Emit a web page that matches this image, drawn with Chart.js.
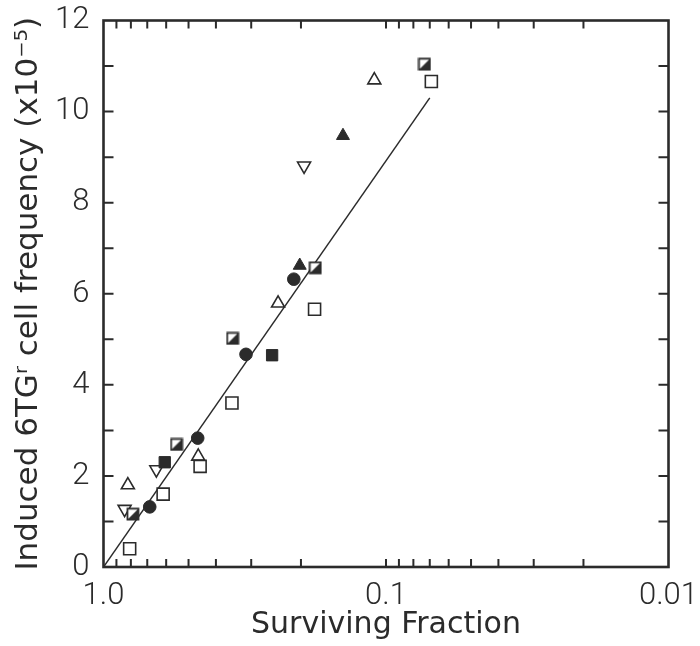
<!DOCTYPE html>
<html>
<head>
<meta charset="utf-8">
<script src="https://cdn.jsdelivr.net/npm/chart.js@4"></script>
<style>
  html, body { margin: 0; padding: 0; background: #fff; }
  #wrap { width: 700px; height: 646px; }
</style>
</head>
<body>
<div id="wrap"><canvas id="myChart"></canvas></div>
<script>
// surviving fraction (x) and induced frequency x10^-5 (y), one list per marker type
const openSquareX = [0.808, 0.615, 0.455, 0.351, 0.179, 0.0691];
const openSquareY = [0.40, 1.60, 2.21, 3.60, 5.66, 10.66];
const halfSquareX = [0.787, 0.551, 0.349, 0.178, 0.0731];
const halfSquareY = [1.16, 2.69, 5.02, 6.57, 11.04];
const filledSquareX = [0.607, 0.253];
const filledSquareY = [2.30, 4.65];
const filledCircleX = [0.686, 0.464, 0.313, 0.212];
const filledCircleY = [1.32, 2.83, 4.67, 6.32];
const openTriangleX = [0.820, 0.462, 0.241, 0.110];
const openTriangleY = [1.80, 2.43, 5.79, 10.69];
const filledTriangleX = [0.202, 0.142];
const filledTriangleY = [6.62, 9.47];
const invTriangleX = [0.842, 0.650, 0.195];
const invTriangleY = [1.27, 2.14, 8.81];
// fitted line ends
const fitX = [1.0, 0.0700];
const fitY = [0, 10.3];

const xLabels = [1, 0.1, 0.01];
const xMinorTicks = [0.9, 0.8, 0.7, 0.6, 0.5, 0.4, 0.3, 0.2, 0.1, 0.09, 0.08, 0.07, 0.06, 0.05, 0.04, 0.03, 0.02];
const yMinorTicks = [1, 2, 3, 4, 5, 6, 7, 8, 9, 10, 11];

const INK = '#2b2b2b';

function pts(xs, ys) {
    return xs.map(function (x, i) { return { x: x, y: ys[i] }; });
}

// square with the lower-right half filled
function halfSquare() {
    var c = document.createElement('canvas');
    c.width = 14; c.height = 14;
    var g = c.getContext('2d');
    g.fillStyle = '#fff';
    g.fillRect(1, 1, 12, 12);
    g.fillStyle = INK;
    g.beginPath();
    g.moveTo(13, 1); g.lineTo(13, 13); g.lineTo(1, 13);
    g.closePath();
    g.fill();
    g.strokeStyle = INK;
    g.lineWidth = 1.8;
    g.strokeRect(1.5, 1.5, 11, 11);
    return c;
}

const tickFont = { family: "'Roboto', sans-serif", size: 31, weight: 300 };
const titleFont = { family: "'DejaVu Sans', sans-serif", size: 30 };

const frame = {
    id: 'frame',
    afterDraw(chart) {
        const ctx = chart.ctx;
        const a = chart.chartArea;
        const xs = chart.scales.x, ys = chart.scales.y;
        ctx.save();
        ctx.strokeStyle = INK;
        ctx.lineWidth = 2;
        ctx.beginPath();
        xMinorTicks.forEach(function (v) {
            var px = xs.getPixelForValue(v);
            ctx.moveTo(px, a.bottom); ctx.lineTo(px, a.bottom - 8);
            ctx.moveTo(px, a.top); ctx.lineTo(px, a.top + 8);
        });
        yMinorTicks.forEach(function (v) {
            var py = ys.getPixelForValue(v);
            ctx.moveTo(a.left, py); ctx.lineTo(a.left + 10, py);
            ctx.moveTo(a.right, py); ctx.lineTo(a.right - 10, py);
        });
        ctx.stroke();
        ctx.lineWidth = 2.6;
        ctx.strokeRect(a.left, a.top, a.right - a.left, a.bottom - a.top);
        ctx.restore();
    }
};

const openStyle = { backgroundColor: '#fff', borderColor: INK, borderWidth: 1.6 };
const fillStyle = { backgroundColor: INK, borderColor: INK, borderWidth: 1 };

new Chart(document.getElementById('myChart'), {
    type: 'scatter',
    data: {
        datasets: [
            Object.assign({ data: pts(openSquareX, openSquareY), pointStyle: 'rect', pointRadius: 8.5 }, openStyle),
            { data: pts(halfSquareX, halfSquareY), pointStyle: halfSquare(), pointRadius: 7 },
            Object.assign({ data: pts(filledSquareX, filledSquareY), pointStyle: 'rect', pointRadius: 8 }, fillStyle),
            Object.assign({ data: pts(filledCircleX, filledCircleY), pointStyle: 'circle', pointRadius: 6.3 }, fillStyle),
            Object.assign({ data: pts(openTriangleX, openTriangleY), pointStyle: 'triangle', pointRadius: 7.5 }, openStyle),
            Object.assign({ data: pts(filledTriangleX, filledTriangleY), pointStyle: 'triangle', pointRadius: 7.5 }, fillStyle),
            Object.assign({ data: pts(invTriangleX, invTriangleY), pointStyle: 'triangle', pointRotation: 180, pointRadius: 7.5 }, openStyle),
            {
                type: 'line',
                data: pts(fitX, fitY),
                borderColor: INK,
                borderWidth: 1.5,
                pointRadius: 0,
                order: 10
            }
        ]
    },
    options: {
        responsive: true,
        maintainAspectRatio: false,
        animation: false,
        events: [],
        layout: { padding: { top: 20.5, right: 31.5, left: 0, bottom: 0 } },
        plugins: { legend: { display: false }, tooltip: { enabled: false } },
        scales: {
            x: {
                type: 'logarithmic',
                reverse: true,
                min: 0.01,
                max: 1,
                grid: { display: false },
                border: { display: false },
                afterBuildTicks: function (s) {
                    s.ticks = xLabels.map(function (v) { return { value: v }; });
                },
                afterFit: function (s) {
                    s.height = 79;
                    s.paddingLeft = 0; s.paddingRight = 0;
                },
                ticks: {
                    color: INK,
                    font: tickFont,
                    padding: 3,
                    maxRotation: 0,
                    autoSkip: false,
                    callback: function (v) { return v === 1 ? '1.0' : String(v); }
                },
                title: {
                    display: true,
                    text: 'Surviving Fraction',
                    color: INK,
                    font: titleFont,
                    padding: { top: 0, bottom: 3 }
                }
            },
            y: {
                min: 0,
                max: 12,
                grid: { display: false },
                border: { display: false },
                afterFit: function (s) {
                    s.width = 103.5;
                    s.paddingTop = 0; s.paddingBottom = 0;
                },
                ticks: {
                    stepSize: 2,
                    color: INK,
                    font: tickFont,
                    padding: 6
                },
                title: {
                    display: true,
                    text: 'Induced 6TGʳ cell frequency (x10⁻⁵)',
                    color: INK,
                    font: { family: "'DejaVu Sans', sans-serif", size: 31 },
                    padding: { top: 10, bottom: 0 }
                }
            }
        }
    },
    plugins: [frame]
});
</script>
</body>
</html>
